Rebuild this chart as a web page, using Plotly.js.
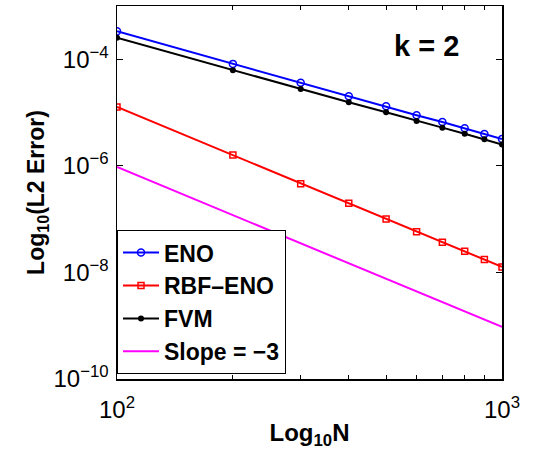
<!DOCTYPE html>
<html>
<head>
<meta charset="utf-8">
<script src="https://cdn.plot.ly/plotly-3.0.1.min.js"></script>
<style>html,body{margin:0;padding:0;background:#fff;}#chart{width:544px;height:455px;}</style>
</head>
<body>
<div id="chart"></div>
<script>
const N = [100, 200, 300, 400, 500, 600, 700, 800, 900, 1000];
const enoErr = [3.35e-4, 8.2e-5, 3.64e-5, 2.02e-5, 1.31e-5, 8.9e-6, 6.67e-6, 5.07e-6, 3.98e-6, 3.2e-6];
const rbfEnoErr = [1.27e-5, 1.6e-6, 4.63e-7, 1.99e-7, 1.01e-7, 5.82e-8, 3.69e-8, 2.5e-8, 1.74e-8, 1.27e-8];
const fvmErr = [2.54e-4, 6.2e-5, 2.77e-5, 1.56e-5, 1.01e-5, 6.96e-6, 5.21e-6, 4.02e-6, 3.16e-6, 2.51e-6];
const slopeN = [100, 1000];
const slopeErr = [9.5e-7, 9.5e-10];
const seriesNames = ['ENO', 'RBF\u2013ENO', 'FVM', 'Slope = \u22123'];
const xTickVals = [100, 1000];
const xTickExp = ['2', '3'];
const xMinorVals = [200, 300, 400, 500, 600, 700, 800, 900];
const yTickVals = [1e-10, 1e-8, 1e-6, 1e-4];
const yTickExp = ['\u221210', '\u22128', '\u22126', '\u22124'];

const FONT = 'Liberation Sans, Arial, Helvetica, sans-serif';
const pow10 = e => '10<sup>' + e + '</sup>';

const traces = [
  {x: N, y: enoErr, name: seriesNames[0], mode: 'lines+markers',
   line: {color: 'rgb(0,0,255)', width: 2},
   marker: {symbol: 'circle-open', size: 7, color: 'rgb(0,0,255)', line: {width: 1.5}}},
  {x: N, y: rbfEnoErr, name: seriesNames[1], mode: 'lines+markers',
   line: {color: 'rgb(255,0,0)', width: 2},
   marker: {symbol: 'square-open', size: 6, color: 'rgb(255,0,0)', line: {width: 1.5}}},
  {x: N, y: fvmErr, name: seriesNames[2], mode: 'lines+markers',
   line: {color: 'rgb(0,0,0)', width: 2},
   marker: {symbol: 'circle', size: 6, color: 'rgb(0,0,0)'}},
  {x: slopeN, y: slopeErr, name: seriesNames[3], mode: 'lines',
   line: {color: 'rgb(255,0,255)', width: 2}}
];

const layout = {
  width: 544, height: 455,
  margin: {l: 117, r: 42, t: 6, b: 76},
  paper_bgcolor: '#fff', plot_bgcolor: '#fff',
  font: {family: FONT, color: '#000', size: 21},
  showlegend: true,
  legend: {
    x: 0, xanchor: 'left', y: 0.013, yanchor: 'bottom',
    bgcolor: '#fff', bordercolor: '#000', borderwidth: 1,
    font: {family: FONT, size: 23, weight: 'bold', color: '#000'},
    itemwidth: 36, tracegroupgap: 0
  },
  xaxis: {
    type: 'log', range: [2, 3],
    tickmode: 'array', tickvals: xTickVals, ticktext: xTickExp.map(pow10),
    ticks: 'inside', ticklen: 6, tickcolor: '#000', tickwidth: 1,
    ticklabelstandoff: 9,
    minor: {tickmode: 'array', tickvals: xMinorVals, ticks: 'inside', ticklen: 4, tickcolor: '#000', tickwidth: 1},
    showline: true, linecolor: '#000', linewidth: 1.5, mirror: 'allticks',
    showgrid: false, zeroline: false,
    tickfont: {size: 24},
    title: {text: '<b>Log<sub>10</sub>N</b>', font: {size: 24}, standoff: 2}
  },
  yaxis: {
    type: 'log', range: [-10, -3],
    tickmode: 'array', tickvals: yTickVals, ticktext: yTickExp.map(pow10),
    ticks: 'inside', ticklen: 6, tickcolor: '#000', tickwidth: 1,
    ticklabelstandoff: 2,
    showline: true, linecolor: '#000', linewidth: 1.5, mirror: 'allticks',
    showgrid: false, zeroline: false,
    tickfont: {size: 24},
    title: {text: '<b>Log<sub>10</sub>(L2 Error)</b>', font: {size: 23}, standoff: 2}
  },
  annotations: [{
    xref: 'paper', yref: 'paper', x: 0.805, y: 0.893, xanchor: 'center', yanchor: 'middle',
    text: '<b>k = 2</b>', showarrow: false,
    font: {family: FONT, size: 29, color: '#000'}
  }]
};

Plotly.newPlot('chart', traces, layout, {displayModeBar: false, staticPlot: true});
</script>
</body>
</html>
